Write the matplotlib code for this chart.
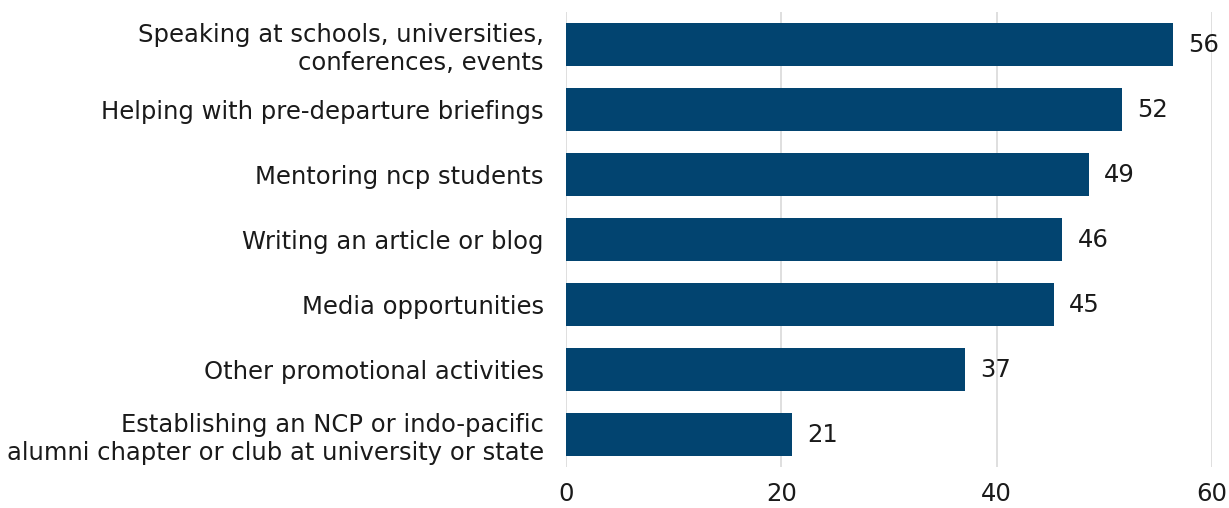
import matplotlib
matplotlib.use("Agg")
import matplotlib.pyplot as plt

# data (top to bottom as shown)
categories = [
    "Speaking at schools, universities,\nconferences, events",
    "Helping with pre-departure briefings",
    "Mentoring ncp students",
    "Writing an article or blog",
    "Media opportunities",
    "Other promotional activities",
    "Establishing an NCP or indo-pacific\nalumni chapter or club at university or state",
]
values = [56.4, 51.6, 48.6, 46.1, 45.3, 37.1, 21.0]
x_ticks = [0, 20, 40, 60]

bar_color = "#024470"
fs = 17.5

fig = plt.figure(figsize=(12.29, 5.08), dpi=100)
ax = fig.add_axes([566 / 1229, 41 / 508, (1212 - 566) / 1229, 455 / 508])

y_pos = list(range(len(categories)))
ax.barh(y_pos, values, height=0.66, color=bar_color, zorder=3)

for y, v in zip(y_pos, values):
    ax.text(v + 1.4, y, f"{v:.0f}", va="center", ha="left", fontsize=fs, color="#1a1a1a")

ax.set_yticks(y_pos)
ax.set_yticklabels(categories, fontsize=fs, color="#1a1a1a", linespacing=1.22)
ax.set_ylim(len(categories) - 0.5, -0.5)
ax.set_xlim(0, 60)
ax.set_xticks(x_ticks)
ax.set_xticklabels([str(t) for t in x_ticks], fontsize=fs, color="#1a1a1a")

ax.grid(axis="x", color="#d9d9d9", linewidth=1.2, zorder=0)
for s in ax.spines.values():
    s.set_visible(False)
ax.tick_params(axis="both", length=0)
ax.tick_params(axis="y", pad=16)
ax.tick_params(axis="x", pad=11)

fig.savefig("out.png", dpi=100)
